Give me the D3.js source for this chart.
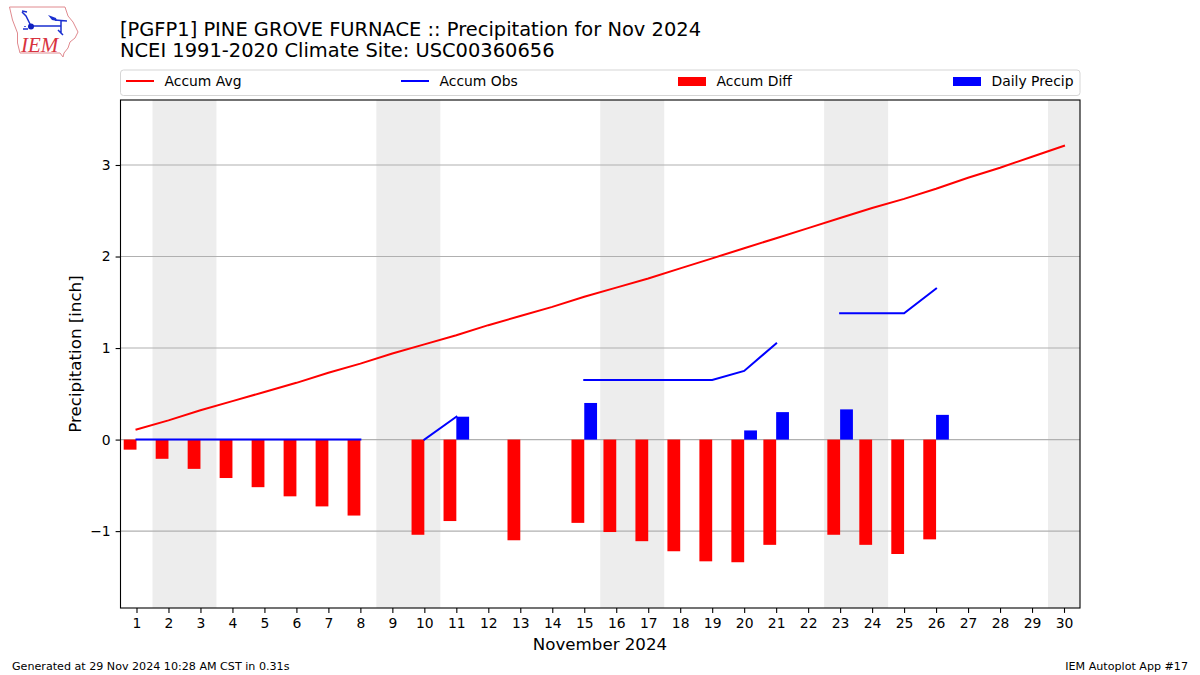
<!DOCTYPE html>
<html><head><meta charset="utf-8">
<script src="https://cdn.jsdelivr.net/npm/d3@7"></script>
<style>html,body{margin:0;padding:0;background:#fff}svg{display:block}text{font-family:"DejaVu Sans",sans-serif;fill:#000}</style>
</head><body><svg id="c" width="1200" height="675"></svg>
<script>
const days = d3.range(1, 31);
const accumAvg = [0.11,0.21,0.32,0.42,0.52,0.62,0.73,0.83,0.94,1.04,1.14,1.25,1.35,1.45,1.56,1.66,1.76,1.87,1.98,2.09,2.20,2.31,2.42,2.53,2.63,2.74,2.86,2.97,3.09,3.21];
const accumObs = [0,0,0,0,0,0,0,0,null,0,0.25,null,null,null,0.65,0.65,0.65,0.65,0.65,0.75,1.05,null,1.38,1.38,1.38,1.65,null,null,null,null];
const accumDiff = [-0.11,-0.21,-0.32,-0.42,-0.52,-0.62,-0.73,-0.83,null,-1.04,-0.89,null,-1.10,null,-0.91,-1.01,-1.11,-1.22,-1.33,-1.34,-1.15,null,-1.04,-1.15,-1.25,-1.09,null,null,null,null];
const dailyPrecip = [0,0,0,0,0,0,0,0,null,0,0.25,null,0,null,0.40,0,0,0,0,0.10,0.30,null,0.33,0,0,0.27,null,null,null,null];
const weekendBands = [[1.5,3.5],[8.5,10.5],[15.5,17.5],[22.5,24.5],[29.5,30.5]];
const yTicks = [-1,0,1,2,3];
const legendLabels = ["Accum Avg","Accum Obs","Accum Diff","Daily Precip"];
const titleLines = ["[PGFP1] PINE GROVE FURNACE :: Precipitation for Nov 2024","NCEI 1991-2020 Climate Site: USC00360656"];

const svg = d3.select("#c");
const L=120.5,R=1080,T=100,B=608;
const x = d3.scaleLinear().domain([0.5,30.5]).range([L,R]);
const y = d3.scaleLinear().domain([-1.84,3.71]).range([B,T]);
const barW = x(0.4)-x(0);

// logo
const logo = svg.append("g");
logo.append("path").attr("d","M9.5 7 L65 7 L68 16 L73 22 L78 32 L75 38 L70 42 L68 48 L64 53 L63 57 L60 53 L20 53 L17.5 43 L17.5 33 L12.5 20 Z").attr("fill","none").attr("stroke","#e08a8f").attr("stroke-width",1);
logo.append("path").attr("d","M31 26 L61 26 M61 21 L61 33 M22 12 L26 16 L31 26 M22 11 L27 12 M55 20 L67 21 M58 30 L63 35").attr("fill","none").attr("stroke","#1a2fd0").attr("stroke-width",1.5);
logo.append("path").attr("d","M48 15 L56 18 L57 21 L52 20 Z").attr("fill","#1a2fd0");
logo.append("circle").attr("cx",31).attr("cy",26.5).attr("r",3).attr("fill","#1020c0");
logo.append("path").attr("d","M23 29 h5 M25 26 v1").attr("stroke","#1a2fd0").attr("stroke-width",1.5).attr("fill","none");
logo.append("text").attr("x",21).attr("y",52).text("IEM").style("font-family","'Liberation Serif',serif").style("font-style","italic").style("font-size","21px").style("fill","#d8333f");

// bands
svg.append("g").selectAll("rect").data(weekendBands).join("rect")
 .attr("x",d=>x(d[0])).attr("width",d=>x(d[1])-x(d[0])).attr("y",T).attr("height",B-T).attr("fill","#ededed");

// grid
svg.append("g").selectAll("line").data(yTicks).join("line")
 .attr("x1",L).attr("x2",R).attr("y1",d=>y(d)).attr("y2",d=>y(d)).attr("stroke","#b0b0b0").attr("stroke-width",1.1);

// bars
svg.append("g").selectAll("rect").data(days.filter((d,i)=>accumDiff[i]!==null)).join("rect")
 .attr("x",d=>x(d)-barW).attr("width",barW).attr("y",y(0)).attr("height",d=>y(accumDiff[d-1])-y(0)).attr("fill","#ff0000");
svg.append("g").selectAll("rect").data(days.filter((d,i)=>dailyPrecip[i]>0)).join("rect")
 .attr("x",d=>x(d)).attr("width",barW).attr("y",d=>y(dailyPrecip[d-1])).attr("height",d=>y(0)-y(dailyPrecip[d-1])).attr("fill","#0000ff");

// lines
const line = vals => d3.line().defined(d=>vals[d-1]!==null).x(d=>x(d)).y(d=>y(vals[d-1]))(days);
svg.append("path").attr("d",line(accumAvg)).attr("fill","none").attr("stroke","#ff0000").attr("stroke-width",2).attr("stroke-linecap","square");
svg.append("path").attr("d",line(accumObs)).attr("fill","none").attr("stroke","#0000ff").attr("stroke-width",2).attr("stroke-linecap","square");

// axes
const ax = svg.append("g").attr("transform",`translate(0,${B})`).call(d3.axisBottom(x).tickValues(days).tickFormat(d3.format("d")).tickSize(4.9).tickPadding(4.9));
const ay = svg.append("g").attr("transform",`translate(${L},0)`).call(d3.axisLeft(y).tickValues(yTicks).tickFormat(d=>d<0?"\u2212"+Math.abs(d):d).tickSize(4.9).tickPadding(4.9));
[ax,ay].forEach(a=>{a.select(".domain").remove();a.selectAll("line").attr("stroke","#000").attr("stroke-width",1.1);a.selectAll("text").style("font-size","13.9px").style("font-family","'DejaVu Sans'").attr("fill","#000");});
svg.append("rect").attr("x",L).attr("y",T).attr("width",R-L).attr("height",B-T).attr("fill","none").attr("stroke","#000").attr("stroke-width",1.1);

// labels
svg.append("text").attr("x",600).attr("y",649.5).attr("text-anchor","middle").style("font-size","16.67px").text("November 2024");
svg.append("text").attr("transform",`translate(80.5,354) rotate(-90)`).attr("text-anchor","middle").style("font-size","16.67px").text("Precipitation [inch]");
titleLines.forEach((t,i)=>svg.append("text").attr("x",120).attr("y",35.5+i*21.7).style("font-size","19.46px").text(t));
svg.append("text").attr("x",12).attr("y",670).style("font-size","11.12px").text("Generated at 29 Nov 2024 10:28 AM CST in 0.31s");
svg.append("text").attr("x",1188).attr("y",670).attr("text-anchor","end").style("font-size","11.12px").text("IEM Autoplot App #17");

// legend
svg.append("rect").attr("x",120.5).attr("y",70).attr("width",959.5).attr("height",25.5).attr("rx",3).attr("fill","#fff").attr("stroke","#d5d5d5").attr("stroke-width",1);
const legendX = [126,401,678,953];
legendLabels.forEach((t,i)=>{
  const g = svg.append("g").attr("transform",`translate(${legendX[i]},0)`);
  if(i<2) g.append("line").attr("x1",0).attr("x2",28).attr("y1",81).attr("y2",81).attr("stroke",i==0?"#ff0000":"#0000ff").attr("stroke-width",2);
  else g.append("rect").attr("x",0).attr("y",77).attr("width",28).attr("height",9).attr("fill",i==2?"#ff0000":"#0000ff");
  g.append("text").attr("x",38.5).attr("y",86).style("font-size","13.9px").text(t);
});
</script></body></html>
